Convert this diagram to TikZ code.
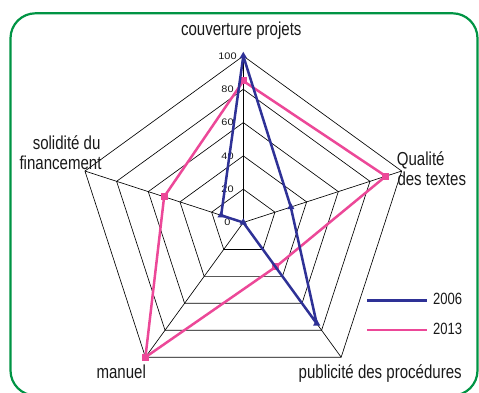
\documentclass[tikz,border=0pt]{standalone}
\usepackage{fontspec}
\setmainfont{Liberation Sans}[FakeStretch=0.8]
\newfontfamily\tickfont{Liberation Sans}[FakeStretch=1.15]
\usetikzlibrary{calc,shapes.geometric}
\definecolor{framegreen}{RGB}{0,148,68}
\definecolor{cblue}{RGB}{46,49,150}
\definecolor{cpink}{RGB}{236,72,152}
\begin{document}
\begin{tikzpicture}[x=1pt,y=1pt,
  grid/.style={draw=black, line width=0.65pt},
  sblue/.style={draw=cblue, line width=2.5pt, line join=round},
  spink/.style={draw=cpink, line width=2.5pt, line join=round},
  lab/.style={font=\fontsize{18.8}{20}\selectfont, inner sep=0pt, text=black!90},
  leg/.style={font=\fontsize{16.3}{18}\selectfont, inner sep=0pt, text=black!90},
  tick/.style={font=\tickfont\fontsize{9.5}{10}\selectfont, inner sep=0pt, text=black!90},
  sq/.style={fill=cpink, minimum size=7pt, inner sep=0pt},
  tri/.style={regular polygon, regular polygon sides=3, fill=cblue, minimum size=8.5pt, inner sep=0pt}
]
\useasboundingbox (0,0) rectangle (479,393);
\draw[framegreen, line width=2.2pt, rounded corners=25pt] (10.5,-2.5) rectangle (477.5,379.7);
\coordinate (C) at (243.3,170.5);
% grid
\foreach \k in {1,...,5} {
  \foreach \i in {0,...,4} {
    \path (C) ++({90-72*\i}:{33.3*\k}) coordinate (r\k-\i);
  }
  \draw[grid] (r\k-0) -- (r\k-1) -- (r\k-2) -- (r\k-3) -- (r\k-4) -- cycle;
}
\foreach \i in {0,...,4} \draw[grid] (C) -- (r5-\i);
% ticks
\foreach \v [count=\k from 0] in {0,20,40,60,80,100}
  \node[tick] (t\v) at ({227.5},{170.5+33.3*\k}) {\v};
% data 2013
\foreach \v [count=\i from 0] in {85,90,33,100,50}
  \path (C) ++({90-72*\i}:{1.665*\v}) coordinate (p\i);
\draw[spink] (p0) -- (p1) -- (p2) -- (p3) -- (p4) -- cycle;
\foreach \i in {0,...,4} \node[sq] (mp\i) at (p\i) {};
% data 2006
\foreach \v [count=\i from 0] in {100,30,75,0,14}
  \path (C) ++({90-72*\i}:{1.665*\v}) coordinate (b\i);
\draw[sblue] (b0) -- (b1) -- (b2) -- (b3) -- (b4) -- cycle;
\foreach \i in {0,...,4} \node[tri] (mb\i) at (b\i) {};
% axis labels
\node[lab, anchor=base] (lcouv) at (241.3,357) {couverture projets};
\node[lab, anchor=base west] (lqual1) at (396.7,227) {Qualité};
\node[lab, anchor=base west] (lqual2) at (397.3,207) {des textes};
\node[lab, anchor=base east] (lsol1) at (100.7,243.7) {solidité du};
\node[lab, anchor=base east] (lsol2) at (101.7,223) {financement};
\node[lab, anchor=base] (lman) at (121.2,14.7) {manuel};
\node[lab, anchor=base] (lpub) at (380.2,14.7) {publicité des procédures};
% legend
\coordinate (la1) at (367,92.3);
\coordinate (lb1) at (427,92.3);
\coordinate (la2) at (367,63);
\coordinate (lb2) at (427,63);
\draw[sblue] (la1) -- (lb1);
\draw[spink] (la2) -- (lb2);
\node[leg, anchor=base west] (y2006) at (433,88) {2006};
\node[leg, anchor=base west] (y2013) at (433,58) {2013};
\end{tikzpicture}
\end{document}
